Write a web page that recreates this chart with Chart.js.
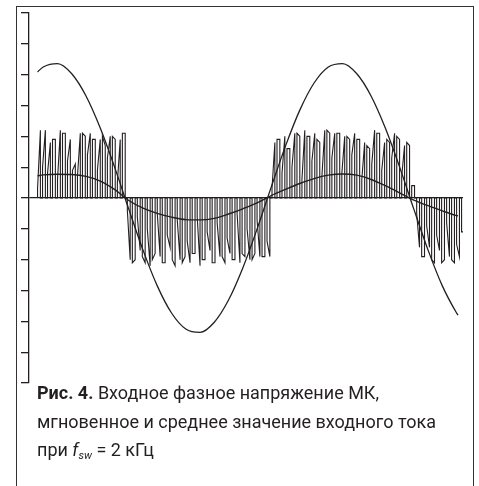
<!DOCTYPE html>
<html lang="ru">
<head>
  <meta charset="UTF-8">
  <title>Рис. 4</title>
  <style>
    body {
      margin: 0;
      width: 479px;
      height: 486px;
      overflow: hidden;
      background: #fff;
      font-family: 'Roboto', sans-serif;
      color: #231f20;
    }
    .frame {
      position: absolute;
      left: 16px;
      top: 6px;
      width: 456px;
      height: 520px;
      border: 1px solid #333;
    }
    canvas {
      position: absolute;
      left: 0;
      top: 0;
    }
    .caption {
      position: absolute;
      left: 37px;
      top: 379px;
      font-size: 18px;
      line-height: 28.5px;
      letter-spacing: 0;
    }
    .caption b { font-weight: 700; }
    sub { font-size: 11px; font-style: italic; vertical-align: -3px; }
  </style>
  <script src="https://cdn.jsdelivr.net/npm/chart.js"></script>
</head>
<body>
  <div class="frame"></div>
  <canvas id="chart" width="479" height="486"></canvas>
  <div class="caption">
    <b>Рис. 4.</b> Входное фазное напряжение МК,<br>
    мгновенное и среднее значение входного тока<br>
    при <i>f</i><sub>sw</sub> = 2 кГц
  </div>
  <script>
    // time axis, ms
    const timeMs = [0.6, 1, 2, 3, 4, 5, 6, 7, 8, 9, 10, 11, 12, 13, 14, 15, 16, 17, 18, 19, 20,
                    21, 22, 23, 24, 25, 26, 27, 28, 29, 30, 30.1];
    // input phase voltage
    const voltage = [4.09, 4.25, 4.36, 4.03, 3.31, 2.27, 1.01, -0.36, -1.69, -2.85, -3.73, -4.25,
                     -4.36, -4.03, -3.31, -2.27, -1.01, 0.36, 1.69, 2.85, 3.73, 4.25, 4.36, 4.03,
                     3.31, 2.27, 1.01, -0.36, -1.69, -2.85, -3.73, -3.80];
    // average input current
    const currentAvg = [0.72, 0.75, 0.77, 0.76, 0.70, 0.55, 0.28, -0.08, -0.33, -0.50, -0.62, -0.70,
                        -0.71, -0.66, -0.52, -0.35, -0.16, 0.08, 0.28, 0.47, 0.63, 0.74, 0.78, 0.74,
                        0.60, 0.40, 0.17, -0.07, -0.25, -0.42, -0.57, -0.58];

    // instantaneous current: switching pulses
    const pulseStart = 0.6;
    const pulseStep = 0.35;
    const pulseWidth = 0.2;
    const pulseFrom = [0.3, 1.0, 0.8, 1.9, 0.6, 2.1, 1.2, 0.9, 0.7, 2.1, 1.4, 1.9, 0.9, 2.0, 1.3, 2.0, 0.5, 2.1,
                       -0.4, -2.1, -0.6, -1.9, -1.0, -2.0, -0.5, -2.1, -1.2, -2.0, -0.7, -2.1, -1.4, -1.8, -0.6,
                       -2.0, -1.1, -2.1, -0.8, -1.9, -1.3, -2.0, -0.5, -1.8, -1.0, -2.0, -0.7, -1.9, -1.4,
                       0.3, 1.9, 0.8, 1.6, 1.0, 2.1, 0.6, 2.0, 1.2, 1.9, 0.7, 2.2, 1.3, 2.1, 0.8, 2.0, 1.4,
                       1.9, 0.6, 1.7, 1.1, 2.1, 0.9, 1.9, 1.3, 2.0, 0.7, 1.8, 0.4,
                       -0.5, -1.9, -0.9, -2.0, -1.2, -2.1, -0.8, -2.0, -1.5, -1.1];
    const pulseTo = [2.2, 2.2, 1.8, 1.9, 2.2, 2.1, 1.9, 1.1, 2.1, 2.0, 2.1, 1.9, 1.9, 1.7, 2.0, 1.9, 1.9, 2.1,
                     -2.0, -2.0, -1.7, -2.1, -2.2, -1.8, -1.9, -2.1, -1.6, -2.2, -2.0, -1.9, -2.1, -1.8, -2.2,
                     -2.0, -1.7, -2.1, -1.9, -2.1, -1.8, -2.0, -2.1, -1.9, -2.0, -1.8, -1.9, -1.9, -1.9,
                     1.8, 1.9, 2.0, 1.6, 2.1, 2.0, 2.2, 2.0, 2.1, 1.8, 2.2, 2.1, 2.1, 2.1, 2.0, 1.9, 2.1,
                     1.9, 1.8, 1.6, 2.2, 2.1, 1.8, 1.8, 2.1, 1.9, 1.7, 1.7, 0.4,
                     -1.6, -1.9, -1.6, -2.1, -1.7, -2.0, -1.9, -2.1, -1.9, -1.1];

    const ink = '#231f20';

    const pulsePoints = [];
    pulseFrom.forEach(function (a, i) {
      const t = pulseStart + i * pulseStep;
      pulsePoints.push({x: t, y: 0}, {x: t, y: a}, {x: t + pulseWidth, y: pulseTo[i]}, {x: t + pulseWidth, y: 0});
    });

    new Chart(document.getElementById('chart'), {
      type: 'line',
      data: {
        datasets: [
          {
            data: pulsePoints,
            borderColor: ink,
            borderWidth: 1.1,
            pointRadius: 0,
            tension: 0
          },
          {
            data: timeMs.map((t, i) => ({x: t, y: currentAvg[i]})),
            borderColor: ink,
            borderWidth: 1.4,
            pointRadius: 0,
            cubicInterpolationMode: 'monotone'
          },
          {
            data: timeMs.map((t, i) => ({x: t, y: voltage[i]})),
            borderColor: ink,
            borderWidth: 1.3,
            pointRadius: 0,
            cubicInterpolationMode: 'monotone'
          }
        ]
      },
      options: {
        responsive: false,
        animation: false,
        layout: {padding: {left: 21, top: 13, right: 16, bottom: 103}},
        plugins: {legend: {display: false}, tooltip: {enabled: false}},
        scales: {
          x: {
            type: 'linear',
            min: 0,
            max: 30.45,
            display: false
          },
          y: {
            min: -6,
            max: 6,
            ticks: {display: false, stepSize: 1, padding: 0},
            grid: {
              drawOnChartArea: true,
              drawTicks: true,
              tickLength: 8,
              tickColor: ink,
              lineWidth: 1.3,
              color: ctx => (ctx.tick && ctx.tick.value === 0) ? ink : 'rgba(0,0,0,0)'
            },
            border: {display: true, color: ink, width: 1.3}
          }
        }
      }
    });
  </script>
</body>
</html>
